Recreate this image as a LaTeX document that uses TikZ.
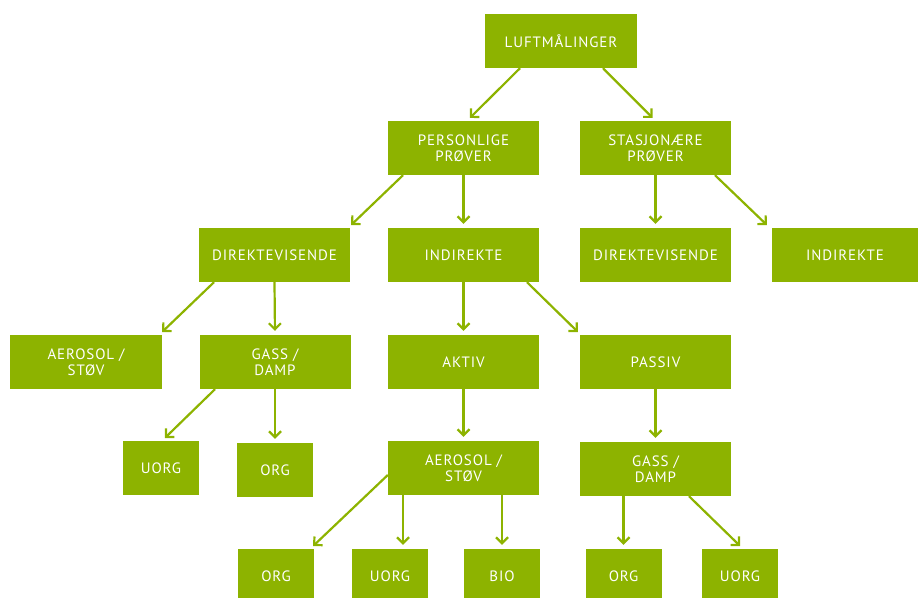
\documentclass[tikz,border=0pt]{standalone}
\usepackage{fontspec}
\setmainfont[LetterSpace=6]{PT Sans}
\usetikzlibrary{arrows.meta}
\definecolor{grn}{RGB}{141,179,0}
\tikzset{
  box/.style={fill=grn, text=white, minimum width=151pt, minimum height=54pt, inner sep=0pt, align=center,
    font=\fontsize{15}{15.5}\selectfont},
  sbox/.style={box, minimum width=76pt},
  arr/.style={draw=grn, line width=2.2pt, -{Straight Barb[length=6pt,width=12pt]}, shorten >=4pt}
}
\begin{document}
\begin{tikzpicture}[x=1pt,y=-1pt]
\useasboundingbox (0,0) rectangle (918,597);
\node[box, minimum width=152pt] (luft) at (561,41) {LUFTMÅLINGER};
\node[box] (pers) at (463.5,148) {PERSONLIGE\\PRØVER};
\node[box] (stas) at (655.5,148) {STASJONÆRE\\PRØVER};
\node[box] (dir1) at (274.5,255) {DIREKTEVISENDE};
\node[box] (ind1) at (463.5,255) {INDIREKTE};
\node[box] (dir2) at (655.5,255) {DIREKTEVISENDE};
\node[box, minimum width=146pt] (ind2) at (845,255) {INDIREKTE};
\node[box, minimum width=152pt] (aer1) at (86,362) {AEROSOL /\\STØV};
\node[box] (gass1) at (275,362) {GASS /\\DAMP};
\node[box] (aktiv) at (463.5,362) {AKTIV};
\node[box] (passiv) at (655.5,362) {PASSIV};
\node[sbox] (uorg1) at (161,468) {UORG};
\node[sbox] (org1) at (275,470) {ORG};
\node[box] (aer2) at (463.5,468) {AEROSOL /\\STØV};
\node[box] (gass2) at (655.5,469) {GASS /\\DAMP};
\node[sbox] (org2) at (276,576) {ORG};
\node[sbox] (uorg2) at (390,576) {UORG};
\node[sbox] (bio) at (502,576) {BIO};
\node[sbox] (org3) at (623.5,576) {ORG};
\node[sbox] (uorg3) at (740,576) {UORG};
% connectors
\draw[arr] ([xshift=-41pt]luft.south) -- ([xshift=3.5pt]pers.north);
\draw[arr] ([xshift=42pt]luft.south) -- (stas.north);
\draw[arr] ([xshift=-60.5pt]pers.south) -- ([xshift=-2pt]dir1.north east);
\draw[arr] (pers.south) -- (ind1.north);
\draw[arr] (stas.south) -- (dir2.north);
\draw[arr] ([xshift=59.5pt]stas.south) -- ([xshift=-2pt]ind2.north west);
\draw[arr] ([xshift=-60.5pt]dir1.south) -- ([xshift=-3pt]aer1.north east);
\draw[arr] (dir1.south) -- (gass1.north);
\draw[arr] (ind1.south) -- (aktiv.north);
\draw[arr] ([xshift=63.5pt]ind1.south) -- ([xshift=1pt]passiv.north west);
\draw[arr] ([xshift=-60pt]gass1.south) -- ([xshift=1pt]uorg1.north);
\draw[arr] (gass1.south) -- (org1.north);
\draw[arr] (aktiv.south) -- (aer2.north);
\draw[arr] (passiv.south) -- (gass2.north);
\coordinate (a2l) at ([yshift=-7pt]aer2.west);
\draw[arr] (a2l) -- ([xshift=-4pt]org2.north east);
\coordinate (a2m) at ([xshift=-60.5pt]aer2.south);
\draw[arr] (a2m) -- (a2m |- uorg2.north);
\coordinate (a2r) at ([xshift=38.5pt]aer2.south);
\draw[arr] (a2r) -- (a2r |- bio.north);
\coordinate (g2l) at ([xshift=-32pt]gass2.south);
\draw[arr] (g2l) -- (g2l |- org3.north);
\draw[arr] ([xshift=33.5pt]gass2.south) -- ([xshift=3pt]uorg3.north);
\end{tikzpicture}
\end{document}
